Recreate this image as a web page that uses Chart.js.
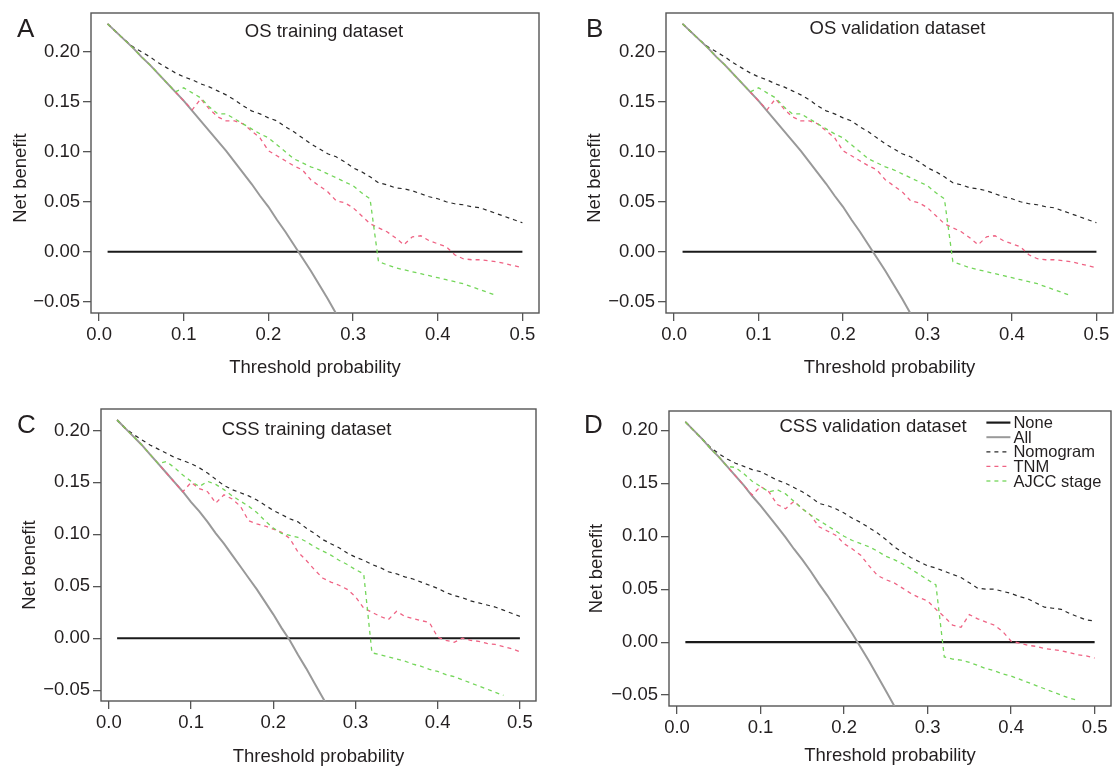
<!DOCTYPE html>
<html>
<head>
<meta charset="utf-8">
<title>Decision curves</title>
<script src="https://cdn.jsdelivr.net/npm/chart.js@4.4.1/dist/chart.umd.min.js"></script>
<style>
  html, body { margin: 0; padding: 0; background: #fff; width: 1115px; height: 769px; overflow: hidden; }
  #wrap { position: relative; width: 1115px; height: 769px; }
  #wrap canvas { position: absolute; }
</style>
</head>
<body>
<div id="wrap">
  <canvas id="panelA"></canvas>
  <canvas id="panelB"></canvas>
  <canvas id="panelC"></canvas>
  <canvas id="panelD"></canvas>
</div>
<script>
// ==========================================
// 1. DATA
// ==========================================
const thresholds = [
  0.01, 0.02, 0.03, 0.04, 0.05, 0.06, 0.07, 0.08, 0.09, 0.10,
  0.11, 0.12, 0.13, 0.14, 0.15, 0.16, 0.17, 0.18, 0.19, 0.20,
  0.21, 0.22, 0.23, 0.24, 0.25, 0.26, 0.27, 0.28, 0.29, 0.30,
  0.31, 0.32, 0.33, 0.34, 0.35, 0.36, 0.37, 0.38, 0.39, 0.40,
  0.41, 0.42, 0.43, 0.44, 0.45, 0.46, 0.47, 0.48, 0.49, 0.50,
];
const noneX = [0.01, 0.5];
const noneY = [0, 0];
const xTicks = [0, 0.1, 0.2, 0.3, 0.4, 0.5];
const yTicks = [-0.05, 0, 0.05, 0.1, 0.15, 0.2];
const seriesNames = ["None", "All", "Nomogram", "TNM", "AJCC stage"];

// A - OS training dataset
const osTrainAll = [
  0.228, 0.220, 0.212, 0.204, 0.195, 0.187, 0.178, 0.169, 0.160, 0.151,
  0.141, 0.131, 0.121, 0.111, 0.101, 0.090, 0.079, 0.068, 0.056, 0.045,
  0.032, 0.020, 0.007, -0.006, -0.019, -0.033, -0.047, -0.062, -0.077,
];
const osTrainNomogram = [
  0.228, 0.220, 0.212, 0.205, 0.200, 0.195, 0.189, 0.184, 0.179, 0.175,
  0.172, 0.168, 0.165, 0.161, 0.157, 0.152, 0.146, 0.141, 0.138, 0.134,
  0.131, 0.125, 0.120, 0.114, 0.108, 0.103, 0.098, 0.095, 0.090, 0.084,
  0.080, 0.075, 0.069, 0.067, 0.064, 0.063, 0.061, 0.058, 0.055, 0.053,
  0.050, 0.048, 0.047, 0.045, 0.044, 0.041, 0.038, 0.035, 0.032, 0.029,
];
const osTrainTnm = [
  0.228, 0.220, 0.212, 0.204, 0.195, 0.187, 0.178, 0.169, 0.160, 0.151,
  0.142, 0.153, 0.143, 0.135, 0.131, 0.131, 0.128, 0.121, 0.114, 0.101,
  0.096, 0.091, 0.086, 0.082, 0.072, 0.066, 0.060, 0.051, 0.049, 0.044,
  0.036, 0.028, 0.024, 0.020, 0.014, 0.007, 0.015, 0.016, 0.011, 0.008,
  0.005, -0.003, -0.007, -0.008, -0.008, -0.009, -0.010, -0.012, -0.014, -0.016,
];
const osTrainAjcc = [
  0.228, 0.220, 0.212, 0.204, 0.195, 0.187, 0.178, 0.169, 0.160, 0.164,
  0.159, 0.154, 0.145, 0.138, 0.138, 0.133, 0.128, 0.123, 0.118, 0.114,
  0.107, 0.100, 0.093, 0.089, 0.085, 0.082, 0.078, 0.074, 0.070, 0.066,
  0.059, 0.053, -0.010, -0.013, -0.016, -0.018, -0.020, -0.022, -0.024, -0.026,
  -0.028, -0.030, -0.032, -0.035, -0.038, -0.041, -0.044,
];

// B - OS validation dataset (curves look the same as A in the figure)
const osValidAll = osTrainAll;
const osValidNomogram = osTrainNomogram;
const osValidTnm = osTrainTnm;
const osValidAjcc = osTrainAjcc;

// C - CSS training dataset
const cssTrainAll = [
  0.210, 0.202, 0.194, 0.186, 0.177, 0.168, 0.159, 0.150, 0.141, 0.131,
  0.122, 0.112, 0.101, 0.091, 0.080, 0.069, 0.058, 0.047, 0.035, 0.023,
  0.010, -0.002, -0.016, -0.029, -0.043, -0.057, -0.071,
];
const cssTrainNomogram = [
  0.210, 0.202, 0.196, 0.191, 0.186, 0.182, 0.178, 0.174, 0.171, 0.168,
  0.164, 0.159, 0.153, 0.147, 0.143, 0.140, 0.137, 0.133, 0.128, 0.123,
  0.119, 0.115, 0.112, 0.106, 0.101, 0.095, 0.091, 0.087, 0.082, 0.078,
  0.075, 0.071, 0.068, 0.064, 0.062, 0.059, 0.057, 0.054, 0.051, 0.048,
  0.044, 0.041, 0.039, 0.036, 0.034, 0.032, 0.030, 0.027, 0.024, 0.021,
];
const cssTrainTnm = [
  0.210, 0.202, 0.194, 0.186, 0.177, 0.168, 0.159, 0.150, 0.141, 0.150,
  0.144, 0.141, 0.130, 0.138, 0.134, 0.127, 0.113, 0.110, 0.108, 0.105,
  0.102, 0.096, 0.083, 0.075, 0.066, 0.058, 0.054, 0.051, 0.047, 0.040,
  0.029, 0.025, 0.021, 0.018, 0.026, 0.021, 0.019, 0.017, 0.015, 0.001,
  -0.002, -0.004, 0.000, -0.002, -0.003, -0.005, -0.006, -0.008, -0.010, -0.013,
];
const cssTrainAjcc = [
  0.210, 0.202, 0.194, 0.186, 0.177, 0.168, 0.170, 0.164, 0.157, 0.151,
  0.146, 0.151, 0.148, 0.143, 0.137, 0.132, 0.127, 0.121, 0.113, 0.106,
  0.101, 0.099, 0.097, 0.093, 0.088, 0.084, 0.080, 0.075, 0.071, 0.066,
  0.062, -0.014, -0.016, -0.018, -0.020, -0.022, -0.025, -0.027, -0.030, -0.032,
  -0.035, -0.037, -0.040, -0.043, -0.046, -0.049, -0.052, -0.055,
];

// D - CSS validation dataset
const cssValidAll = [
  0.208, 0.200, 0.192, 0.183, 0.175, 0.166, 0.157, 0.148, 0.138, 0.129,
  0.119, 0.109, 0.099, 0.088, 0.078, 0.067, 0.055, 0.044, 0.032, 0.020,
  0.008, -0.005, -0.018, -0.032, -0.046, -0.060, -0.074,
];
const cssValidNomogram = [
  0.208, 0.200, 0.192, 0.184, 0.178, 0.173, 0.169, 0.166, 0.163, 0.161,
  0.157, 0.153, 0.150, 0.146, 0.142, 0.137, 0.131, 0.129, 0.126, 0.122,
  0.117, 0.113, 0.108, 0.103, 0.097, 0.090, 0.085, 0.080, 0.076, 0.072,
  0.070, 0.067, 0.064, 0.061, 0.056, 0.051, 0.050, 0.050, 0.048, 0.046,
  0.043, 0.041, 0.037, 0.033, 0.032, 0.031, 0.027, 0.024, 0.021, 0.020,
];
const cssValidTnm = [
  0.208, 0.200, 0.192, 0.183, 0.175, 0.166, 0.157, 0.148, 0.139, 0.147,
  0.142, 0.130, 0.126, 0.133, 0.126, 0.120, 0.109, 0.105, 0.101, 0.093,
  0.088, 0.082, 0.072, 0.063, 0.059, 0.056, 0.051, 0.046, 0.042, 0.039,
  0.031, 0.024, 0.016, 0.014, 0.026, 0.022, 0.019, 0.016, 0.010, 0.001,
  -0.001, -0.003, -0.004, -0.006, -0.007, -0.008, -0.010, -0.012, -0.013, -0.015,
];
const cssValidAjcc = [
  0.208, 0.200, 0.192, 0.183, 0.175, 0.166, 0.165, 0.159, 0.152, 0.147,
  0.142, 0.144, 0.140, 0.133, 0.126, 0.120, 0.115, 0.110, 0.105, 0.100,
  0.096, 0.093, 0.090, 0.086, 0.081, 0.078, 0.074, 0.069, 0.064, 0.059,
  0.054, -0.014, -0.016, -0.017, -0.019, -0.022, -0.025, -0.027, -0.030, -0.032,
  -0.035, -0.038, -0.041, -0.044, -0.047, -0.050, -0.053, -0.055,
];

// ==========================================
// 2. STYLE
// ==========================================
const FONT = '"Liberation Sans", Arial, Helvetica, sans-serif';
const TEXT_COLOR = "#231f20";
const AXIS_COLOR = "#555555";
const seriesColors = ["#1a1a1a", "#999999", "#2a2a2a", "#ef6384", "#74d65a"];
const seriesWidths = [2.2, 2, 1.2, 1.3, 1.3];
const seriesDashes = [[], [], [4, 4], [4, 4], [4, 4]];

// room around the plot box inside each canvas
const PAD_L = 90;  // y axis width
const PAD_T = 24;
const PAD_R = 12;
const PAD_B = 80;  // x axis height

// box = [left, top, width, height] of the plot frame on the page
const panels = [
  {
    id: "panelA", letter: "A", title: "OS training dataset",
    box: [91, 13, 448, 300], yRange: [-0.0613, 0.2389],
    all: osTrainAll, nomogram: osTrainNomogram, tnm: osTrainTnm, ajcc: osTrainAjcc,
    letterPos: [17, 37], titleDx: 9, titleDy: 19, ylabGap: 70, ylabDy: 15, xlabPad: 13.6, legend: false,
  },
  {
    id: "panelB", letter: "B", title: "OS validation dataset",
    box: [666, 13, 447, 300], yRange: [-0.0613, 0.2389],
    all: osValidAll, nomogram: osValidNomogram, tnm: osValidTnm, ajcc: osValidAjcc,
    letterPos: [586, 37], titleDx: 8, titleDy: 16, ylabGap: 71, ylabDy: 15, xlabPad: 13.6, legend: false,
  },
  {
    id: "panelC", letter: "C", title: "CSS training dataset",
    box: [101, 409, 435, 292], yRange: [-0.0604, 0.2206],
    all: cssTrainAll, nomogram: cssTrainNomogram, tnm: cssTrainTnm, ajcc: cssTrainAjcc,
    letterPos: [17, 433], titleDx: -12, titleDy: 21, ylabGap: 71, ylabDy: 10, xlabPad: 13.2, legend: false,
  },
  {
    id: "panelD", letter: "D", title: "CSS validation dataset",
    box: [669, 411, 442, 295], yRange: [-0.0603, 0.2183],
    all: cssValidAll, nomogram: cssValidNomogram, tnm: cssValidTnm, ajcc: cssValidAjcc,
    letterPos: [584, 433], titleDx: -17, titleDy: 16, ylabGap: 72, ylabDy: 10, xlabPad: 18.9, legend: true,
  },
];

// ==========================================
// 3. HELPERS
// ==========================================
function toPoints(xs, ys) {
  return ys.map((y, i) => ({ x: xs[i], y: y }));
}

function formatY(v) {
  if (Math.abs(v) < 1e-9) return "0.00";
  return v < 0 ? "\u2212" + Math.abs(v).toFixed(2) : v.toFixed(2);
}

function buildDatasets(p) {
  const series = [
    toPoints(noneX, noneY),
    toPoints(thresholds, p.all),
    toPoints(thresholds, p.nomogram),
    toPoints(thresholds, p.tnm),
    toPoints(thresholds, p.ajcc),
  ];
  return series.map((data, i) => ({
    label: seriesNames[i],
    data: data,
    borderColor: seriesColors[i],
    borderWidth: seriesWidths[i],
    borderDash: seriesDashes[i],
    pointRadius: 0,
    fill: false,
    tension: 0,
    clip: 0,
    order: seriesNames.length - i, // later series drawn on top
  }));
}

// frame, panel letter, inner title, y label and legend
const panelDecor = {
  id: "panelDecor",
  beforeDatasetsDraw(chart, args, opts) {
    const { ctx, chartArea: a } = chart;
    ctx.save();
    ctx.strokeStyle = AXIS_COLOR;
    ctx.lineWidth = 1.4;
    ctx.strokeRect(a.left, a.top, a.right - a.left, a.bottom - a.top);
    ctx.restore();
  },
  afterDraw(chart, args, opts) {
    const { ctx, chartArea: a } = chart;
    ctx.save();
    ctx.fillStyle = TEXT_COLOR;

    ctx.font = "26px " + FONT;
    ctx.textAlign = "left";
    ctx.textBaseline = "alphabetic";
    ctx.fillText(opts.letter, opts.letterPos[0] - opts.ox, opts.letterPos[1] - opts.oy);

    ctx.font = "18.5px " + FONT;
    ctx.textAlign = "center";
    ctx.textBaseline = "middle";
    ctx.fillText(opts.title, (a.left + a.right) / 2 + opts.titleDx, a.top + opts.titleDy);

    ctx.save();
    ctx.translate(a.left - opts.ylabGap, (a.top + a.bottom) / 2 + opts.ylabDy);
    ctx.rotate(-Math.PI / 2);
    ctx.fillText("Net benefit", 0, 0);
    ctx.restore();

    if (opts.legend) {
      ctx.font = "16.5px " + FONT;
      ctx.textAlign = "left";
      seriesNames.forEach((name, i) => {
        const y = a.top + 11.6 + i * 14.6;
        const x0 = a.left + 317.4;
        ctx.strokeStyle = seriesColors[i];
        ctx.lineWidth = seriesWidths[i];
        ctx.setLineDash(seriesDashes[i]);
        ctx.beginPath();
        ctx.moveTo(x0, y);
        ctx.lineTo(x0 + 24, y);
        ctx.stroke();
        ctx.setLineDash([]);
        ctx.fillStyle = TEXT_COLOR;
        ctx.fillText(name, x0 + 27, y + 1);
      });
    }
    ctx.restore();
  },
};

// ==========================================
// 4. CHARTS
// ==========================================
function makePanel(p) {
  const [L, T, W, H] = p.box;
  const canvas = document.getElementById(p.id);
  const ox = L - PAD_L;
  const oy = T - PAD_T;
  canvas.width = W + PAD_L + PAD_R;
  canvas.height = H + PAD_T + PAD_B;
  canvas.style.left = ox + "px";
  canvas.style.top = oy + "px";

  const tickFont = { family: FONT, size: 18.5 };

  new Chart(canvas, {
    type: "line",
    data: { datasets: buildDatasets(p) },
    options: {
      responsive: false,
      animation: false,
      devicePixelRatio: 1,
      layout: { padding: { left: 0, top: PAD_T, right: PAD_R, bottom: 0 } },
      plugins: {
        legend: { display: false },
        tooltip: { enabled: false },
        panelDecor: {
          letter: p.letter, title: p.title, letterPos: p.letterPos, ox: ox, oy: oy,
          titleDx: p.titleDx, titleDy: p.titleDy, ylabGap: p.ylabGap, ylabDy: p.ylabDy,
          legend: p.legend,
        },
      },
      scales: {
        x: {
          type: "linear",
          min: -0.0096,
          max: 0.5196,
          afterBuildTicks: (s) => { s.ticks = xTicks.map((v) => ({ value: v })); },
          afterFit: (s) => { s.height = PAD_B; },
          ticks: {
            callback: (v) => Number(v).toFixed(1),
            font: tickFont, color: TEXT_COLOR, padding: 3, maxRotation: 0, autoSkip: false,
          },
          grid: { drawOnChartArea: false, tickLength: 8, color: AXIS_COLOR, lineWidth: 1.3 },
          border: { display: false },
          title: {
            display: true, text: "Threshold probability", color: TEXT_COLOR,
            font: { family: FONT, size: 18.5 }, padding: { top: 0, bottom: p.xlabPad },
          },
        },
        y: {
          type: "linear",
          min: p.yRange[0],
          max: p.yRange[1],
          afterBuildTicks: (s) => { s.ticks = yTicks.map((v) => ({ value: v })); },
          afterFit: (s) => { s.width = PAD_L; },
          ticks: {
            callback: (v) => formatY(v),
            font: tickFont, color: TEXT_COLOR, padding: 3, autoSkip: false,
          },
          grid: { drawOnChartArea: false, tickLength: 8, color: AXIS_COLOR, lineWidth: 1.3 },
          border: { display: false },
        },
      },
    },
    plugins: [panelDecor],
  });
}

document.addEventListener("DOMContentLoaded", () => {
  try {
    if (typeof Chart === "undefined") {
      console.warn("Chart.js not loaded");
      return;
    }
    panels.forEach(makePanel);
  } catch (error) {
    console.error("Chart failed:", error);
  }
});
</script>
</body>
</html>
